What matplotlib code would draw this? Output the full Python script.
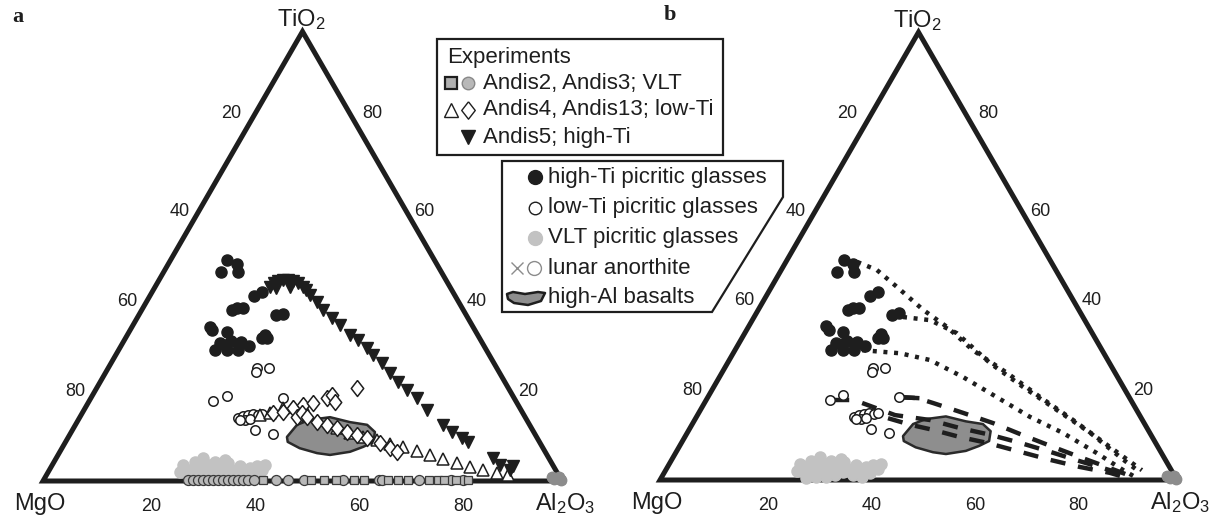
import numpy as np
import matplotlib.pyplot as plt
from matplotlib.patches import Polygon

plt.rcParams['font.family'] = ['Liberation Sans', 'DejaVu Sans']
plt.rcParams['mathtext.fontset'] = 'custom'
plt.rcParams['mathtext.rm'] = 'Liberation Sans'
plt.rcParams['mathtext.it'] = 'Liberation Sans'

INK = '#1e1e1e'
DIAMOND = [(0, 1), (0.78, 0), (0, -1), (-0.78, 0), (0, 1)]

# ---- data: wt% Al2O3 and TiO2 (MgO = 100 - Al2O3 - TiO2) ----
# high-Ti picritic glasses
hiti_al = [10.9, 13.2, 14.3, 11.0, 21.2, 20.1, 17.4, 18.1, 19.3, 26.4, 27.6, 15.0, 15.8,
           18.9, 26.5, 27.3, 26.3, 18.7, 20.0, 18.6, 20.9, 23.0, 22.7, 24.7, 20.6]
hiti_ti = [49.2, 48.3, 46.5, 46.5, 42.0, 41.2, 38.0, 38.5, 38.5, 36.9, 37.2, 34.3, 33.6,
           33.1, 32.5, 31.8, 31.8, 30.7, 30.3, 29.1, 29.1, 29.1, 30.9, 30.0, 31.1]
# low-Ti picritic glasses
loti_al = [28.7, 28.9, 31.0, 23.9, 26.0, 37.0, 35.2, 39.1, 30.6, 31.3, 32.1, 33.0, 34.1,
           34.7, 32.1, 31.2, 33.0]
loti_ti = [25.1, 24.2, 25.1, 17.8, 18.9, 18.5, 11.3, 10.5, 14.0, 14.5, 14.7, 14.9, 14.7,
           14.9, 13.6, 13.6, 13.8]
# VLT picritic glasses
vlt_al = [25.4, 25.2, 26.7, 28.2, 27.2, 28.6, 28.3, 30.3, 30.0, 31.4, 31.0, 33.2, 33.0, 34.4,
          33.6, 35.2, 36.7, 36.3, 37.5, 38.8, 38.4, 39.9, 39.6, 41.0, 41.0, 28.1, 31.8, 32.7, 29.9]
vlt_ti = [2.0, 3.6, 2.4, 1.1, 4.2, 2.9, 5.1, 1.8, 3.6, 2.4, 4.2, 1.1, 2.9, 1.8,
          4.0, 2.4, 1.1, 3.3, 2.0, 0.7, 2.9, 1.6, 3.3, 2.4, 3.6, 0.4, 0.7, 4.7, 0.7]
# lunar anorthite
anor_al = [97.6, 98.3, 98.9, 99.4, 99.7]
anor_ti = [0.9, 0.5, 1.0, 0.4, 0.2]
# high-Al basalts field outline
hal_al = [42.1, 42.7, 44.6, 48.2, 52.6, 56.2, 58.5, 59.3, 57.9, 55.9, 52.4, 49.7, 45.8, 42.8]
hal_ti = [9.8, 12.5, 13.6, 14.2, 13.1, 12.5, 10.9, 8.7, 7.6, 6.5, 5.8, 6.2, 7.3, 8.7]

# experiments
andis5_al = [22.1, 22.5, 23.1, 23.9, 24.9, 26.0, 27.1, 28.5, 29.5, 23.5, 26.0,
             30.7, 32.9, 34.9, 37.6, 39.9, 42.9, 45.0, 47.6, 49.6, 52.2, 54.9, 57.4,
             60.0, 62.9, 66.1, 70.9, 73.4, 75.9, 77.6, 84.2, 86.3, 88.8, 88.9]
andis5_ti = [43.2, 44.0, 44.5, 44.7, 44.7, 44.5, 44.0, 43.2, 42.5, 42.9, 43.2,
             41.4, 39.8, 38.0, 36.3, 34.7, 32.5, 31.4, 29.6, 28.0, 26.3, 24.0, 22.0,
             20.2, 18.5, 15.8, 12.5, 10.9, 9.6, 8.7, 5.1, 3.6, 2.4, 3.3]
andis4_al = [34.5, 36.2, 38.1, 39.9, 41.6, 50.7, 53.8, 56.8, 59.8, 62.8, 65.6, 68.7, 71.7,
             74.6, 77.8, 80.7, 83.6, 86.6, 88.9]
andis4_ti = [14.7, 15.1, 16.2, 16.5, 16.9, 11.8, 10.7, 9.8, 9.1, 8.2, 7.6, 6.7, 5.8,
             4.9, 4.0, 3.1, 2.4, 1.8, 1.3]
andis13_al = [36.8, 38.5, 40.1, 41.6, 43.3, 45.5, 46.2, 47.5, 50.2, 41.8, 42.4, 43.8, 46.3,
              48.5, 50.7, 53.2, 55.4, 57.6, 60.7, 63.2, 65.0]
andis13_ti = [15.1, 15.4, 16.2, 16.9, 17.4, 18.5, 19.1, 17.6, 20.7, 14.2, 15.1, 14.2, 13.1,
              12.5, 11.8, 10.9, 10.2, 9.6, 8.5, 7.3, 6.5]
andis3_al = [27.7, 28.7, 29.7, 30.6, 31.6, 32.6, 33.5, 34.5, 35.5, 36.4, 37.4, 38.3, 39.3,
             40.5, 44.7, 47.0, 50.1, 57.6, 64.5, 65.1, 72.3, 78.4, 80.7]
andis2_al = [42.2, 51.4, 54.0, 56.3, 59.7, 61.7, 66.3, 68.2, 70.1, 74.2, 75.9, 77.1, 79.4, 81.7]
vlt_exp_ti = 0.3

# panel b: mixing trends
dot1_al = [13.8, 18.5, 24.3, 31.9, 38.4, 46.0, 55.2, 64.3, 73.2, 83.3, 92.1]
dot1_ti = [48.7, 46.9, 43.1, 38.0, 34.2, 29.0, 23.9, 18.5, 13.4, 7.4, 2.2]
dot2_al = [28.8, 34.4, 41.0, 50.8, 59.8, 69.0, 78.0, 87.4, 91.2]
dot2_ti = [36.4, 35.7, 32.8, 26.1, 20.8, 15.6, 10.5, 4.5, 2.2]
dot3_al = [24.6, 32.3, 38.8, 47.1, 55.9, 64.5, 72.7, 81.5, 88.5, 92.1]
dot3_ti = [29.0, 28.3, 26.8, 23.0, 18.5, 14.1, 10.5, 6.0, 2.2, 0.4]
dash1_al = [37.1, 40.6, 44.2, 51.1, 58.1, 65.2, 72.3, 78.7, 85.0, 91.1]
dash1_ti = [18.5, 18.3, 17.2, 15.0, 12.7, 10.0, 7.4, 5.1, 2.9, 0.7]
dash2_al = [30.5, 38.2, 45.5, 52.2, 58.8, 65.5, 72.3, 79.1, 85.9, 90.6]
dash2_ti = [17.2, 14.5, 13.4, 11.6, 10.1, 8.3, 6.3, 4.2, 2.2, 0.7]
dash3_al = [37.2, 42.4, 47.2, 53.2, 59.1, 66.5, 73.2, 79.8, 86.2, 90.3]
dash3_ti = [13.8, 12.3, 11.2, 9.6, 8.3, 6.3, 4.5, 2.9, 1.6, 0.4]
tie_al = [23.9, 27.2]
tie_ti = [17.9, 17.9]
tie1_al = [37.1, 40.6]
tie1_ti = [18.5, 18.3]

ticks = [20, 40, 60, 80]
H = np.sqrt(3) / 2


def tern(al, ti):
    al = np.asarray(al, float)
    ti = np.asarray(ti, float)
    return al + ti / 2, ti * H


def frame(ax):
    ax.add_patch(Polygon([(0, 0), (100, 0), (50, 100 * H)], closed=True, fill=False,
                         ec=INK, lw=3.6, joinstyle='miter', zorder=1))
    for v in ticks:
        x, y = tern(0, 100 - v)
        ax.annotate(str(v), (x, y), xytext=(-14, 6 if v == 20 else 0),
                    textcoords='offset points', ha='center', va='center', fontsize=13, color=INK)
        x, y = tern(100 - v, v)
        ax.annotate(str(v), (x, y), xytext=(13, 6 if v == 80 else 0),
                    textcoords='offset points', ha='center', va='center', fontsize=13, color=INK)
        x, y = tern(v, 0)
        ax.annotate(str(v), (x, y), xytext=(3.5, -18),
                    textcoords='offset points', ha='center', va='center', fontsize=13, color=INK)
    ax.annotate('TiO$_2$', (50, 100 * H), xytext=(-1, 4), textcoords='offset points',
                ha='center', va='baseline', fontsize=17, color=INK)
    ax.annotate('MgO', (0, 0), xytext=(-2, -21), textcoords='offset points',
                ha='center', va='baseline', fontsize=17, color=INK)
    ax.annotate('Al$_2$O$_3$', (100, 0), xytext=(2, -21), textcoords='offset points',
                ha='center', va='baseline', fontsize=17, color=INK)


def glasses(ax):
    x, y = tern(vlt_al, vlt_ti)
    ax.plot(x, y, 'o', ms=8, mfc='#c2c2c2', mec='#c2c2c2', zorder=3)
    x, y = tern(hiti_al, hiti_ti)
    ax.plot(x, y, 'o', ms=8, mfc=INK, mec=INK, zorder=4)
    x, y = tern(loti_al, loti_ti)
    ax.plot(x, y, 'o', ms=6.8, mfc='white', mec=INK, mew=1.1, zorder=4)
    x, y = tern(anor_al, anor_ti)
    ax.plot(x, y, 'o', ms=7.5, mfc='#8c8c8c', mec='#8c8c8c', zorder=4)
    ax.plot(x, y, 'x', ms=6, mec='#8c8c8c', zorder=4)
    x, y = tern(hal_al, hal_ti)
    ax.add_patch(Polygon(np.column_stack([x, y]), closed=True, fc='#8e8e8e', ec='#2a2a2a',
                         lw=1.8, joinstyle='round', zorder=2))


fig = plt.figure(figsize=(12.16, 5.21), dpi=100)

# ---- panel a ----
axA = fig.add_axes([0, 0, 0.5, 1])
axA.set_xlim(-8.285, 108.86)
axA.set_ylim(-7.707, 92.68)
axA.axis('off')
frame(axA)
glasses(axA)
x, y = tern(andis3_al, [vlt_exp_ti] * len(andis3_al))
axA.plot(x, y, 'o', ms=7.2, mfc='#b8b8b8', mec='#3a3a3a', mew=0.9, zorder=5)
x, y = tern(andis2_al, [vlt_exp_ti] * len(andis2_al))
axA.plot(x, y, 's', ms=6.2, mfc='#b8b8b8', mec='#3a3a3a', mew=0.9, zorder=5)
x, y = tern(andis4_al, andis4_ti)
axA.plot(x, y, '^', ms=9, mfc='white', mec=INK, mew=1.1, zorder=5)
x, y = tern(andis13_al, andis13_ti)
axA.plot(x, y, marker=DIAMOND, ls='none', ms=11.5, mfc='white', mec=INK, mew=1.1, zorder=5)
x, y = tern(andis5_al, andis5_ti)
axA.plot(x, y, 'v', ms=9, mfc=INK, mec=INK, zorder=5)

# ---- panel b ----
axB = fig.add_axes([0.5, 0, 0.5, 1])
axB.set_xlim(-10.06, 107.54)
axB.set_ylim(-7.93, 92.84)
axB.axis('off')
frame(axB)
glasses(axB)
for al, ti in [(dot1_al, dot1_ti), (dot2_al, dot2_ti), (dot3_al, dot3_ti)]:
    x, y = tern(al, ti)
    axB.plot(x, y, color=INK, lw=3.2, ls=(0, (0.9, 1.5)), zorder=3)
for al, ti in [(dash1_al, dash1_ti), (dash2_al, dash2_ti), (dash3_al, dash3_ti)]:
    x, y = tern(al, ti)
    axB.plot(x, y, color=INK, lw=3.2, ls=(0, (3.4, 2.9)), zorder=3)
for al, ti in [(tie_al, tie_ti), (tie1_al, tie1_ti)]:
    x, y = tern(al, ti)
    axB.plot(x, y, color=INK, lw=3.2, zorder=3)

# ---- legends & panel letters (figure pixel coordinates) ----
ov = fig.add_axes([0, 0, 1, 1], zorder=10)
ov.set_xlim(0, 1216)
ov.set_ylim(521, 0)
ov.axis('off')
ov.patch.set_alpha(0)

ov.text(18, 17, 'a', fontsize=16, fontweight='bold', family='Liberation Serif',
        ha='center', va='center', color=INK)
ov.text(670, 15, 'b', fontsize=16, fontweight='bold', family='Liberation Serif',
        ha='center', va='center', color=INK)

ov.add_patch(Polygon([(437, 39), (723, 39), (723, 155), (437, 155)], closed=True,
                     fc='white', ec=INK, lw=1.6))
ov.text(447, 58, 'Experiments', fontsize=16, va='center', color=INK)
ov.plot(451, 83, 's', ms=9, mfc='#b0b0b0', mec=INK, mew=1.6)
ov.plot(468, 83, 'o', ms=9, mfc='#b8b8b8', mec='#888888', mew=1.0)
ov.text(483, 83, 'Andis2, Andis3; VLT', fontsize=16, va='center', color=INK)
ov.plot(451, 110, '^', ms=9.5, mfc='white', mec=INK, mew=1.0)
ov.plot(468, 110, marker=DIAMOND, ls='none', ms=12.5, mfc='white', mec=INK, mew=1.0)
ov.text(483, 110, 'Andis4, Andis13; low-Ti', fontsize=16, va='center', color=INK)
ov.plot(468, 137, 'v', ms=10, mfc=INK, mec=INK)
ov.text(483, 137, 'Andis5; high-Ti', fontsize=16, va='center', color=INK)

ov.add_patch(Polygon([(502, 161), (783, 161), (783, 197), (712, 312), (502, 312)],
                     closed=True, fc='white', ec=INK, lw=1.6))
ov.plot(535, 177, 'o', ms=10, mfc=INK, mec=INK)
ov.text(548, 177, 'high-Ti picritic glasses', fontsize=16, va='center', color=INK)
ov.plot(535, 208, 'o', ms=9, mfc='white', mec=INK, mew=1.0)
ov.text(548, 208, 'low-Ti picritic glasses', fontsize=16, va='center', color=INK)
ov.plot(535, 238, 'o', ms=10, mfc='#c2c2c2', mec='#c2c2c2')
ov.text(548, 238, 'VLT picritic glasses', fontsize=16, va='center', color=INK)
ov.plot(517, 268, 'x', ms=9, mec='#8c8c8c', mew=1.0)
ov.plot(534, 268, 'o', ms=10, mfc='white', mec='#8c8c8c', mew=1.0)
ov.text(548, 268, 'lunar anorthite', fontsize=16, va='center', color=INK)
ov.add_patch(Polygon([(507, 294), (513, 292), (525, 294), (538, 292), (545, 293),
                      (541, 301), (528, 305), (514, 303), (508, 299)],
                     closed=True, fc='#8e8e8e', ec=INK, lw=1.8, joinstyle='round'))
ov.text(548, 297, 'high-Al basalts', fontsize=16, va='center', color=INK)

fig.savefig('out.png', dpi=100)
